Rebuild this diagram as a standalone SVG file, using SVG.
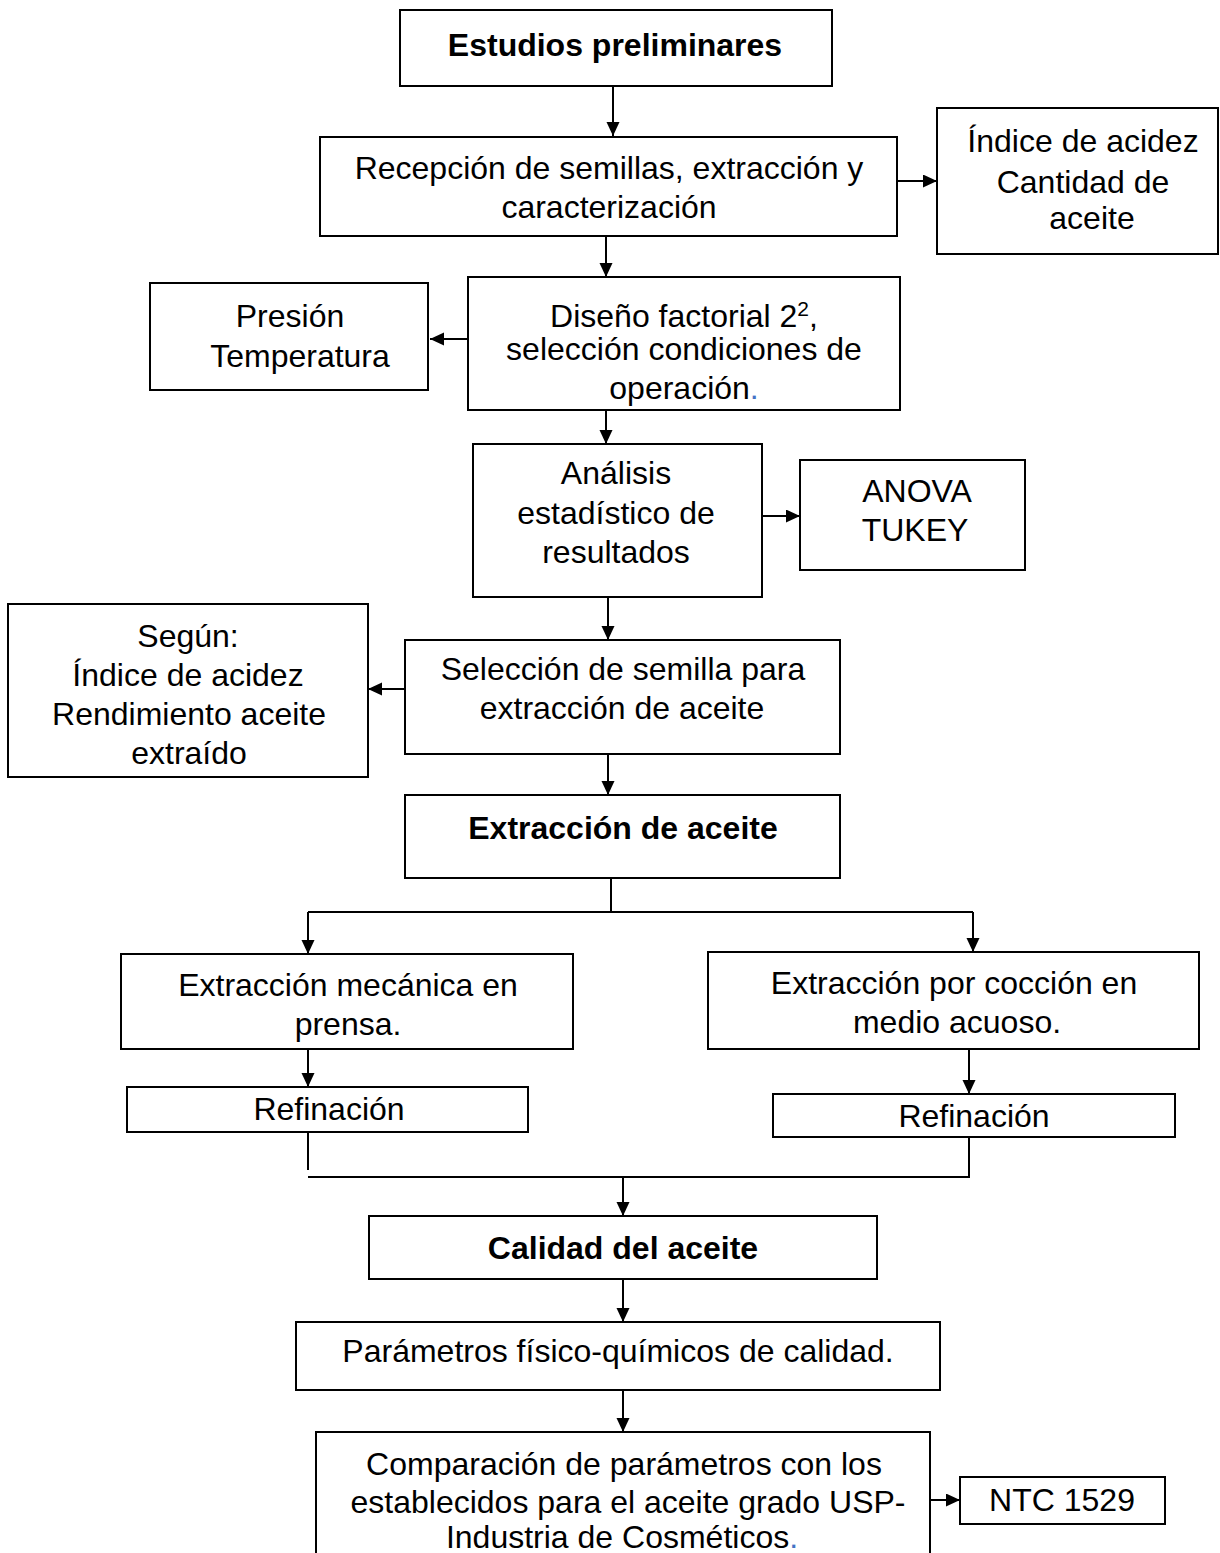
<svg xmlns="http://www.w3.org/2000/svg" width="1220" height="1553" viewBox="0 0 1220 1553">
<style>
.box{fill:#fff;stroke:#000;stroke-width:2}
.t{font-family:"Liberation Sans",Arial,sans-serif;font-size:32px;fill:#000;text-anchor:middle}
.b{font-weight:bold}
.c{fill:none;stroke:#000;stroke-width:2}
</style>
<defs>
<marker id="ah" markerUnits="userSpaceOnUse" markerWidth="16" markerHeight="14" refX="14" refY="6.5" orient="auto">
<path d="M0,0 L14,6.5 L0,13 z" fill="#000"/>
</marker>
<clipPath id="clip4"><rect x="468" y="277" width="432" height="131"/></clipPath>
</defs>
<rect width="1220" height="1553" fill="#fff"/>
<g id="connectors">
<line class="c" x1="613" y1="87" x2="613" y2="136" marker-end="url(#ah)"/>
<line class="c" x1="897" y1="181" x2="937" y2="181" marker-end="url(#ah)"/>
<line class="c" x1="606" y1="237" x2="606" y2="277" marker-end="url(#ah)"/>
<line class="c" x1="468" y1="339" x2="430" y2="339" marker-end="url(#ah)"/>
<line class="c" x1="606" y1="411" x2="606" y2="444" marker-end="url(#ah)"/>
<line class="c" x1="762" y1="516" x2="800" y2="516" marker-end="url(#ah)"/>
<line class="c" x1="608" y1="598" x2="608" y2="640" marker-end="url(#ah)"/>
<line class="c" x1="405" y1="689" x2="368" y2="689" marker-end="url(#ah)"/>
<line class="c" x1="608" y1="755" x2="608" y2="795" marker-end="url(#ah)"/>
<path class="c" d="M611,879 V912 M308,912 H973"/>
<line class="c" x1="308" y1="912" x2="308" y2="954" marker-end="url(#ah)"/>
<line class="c" x1="973" y1="912" x2="973" y2="952" marker-end="url(#ah)"/>
<line class="c" x1="308" y1="1050" x2="308" y2="1087" marker-end="url(#ah)"/>
<line class="c" x1="969" y1="1046" x2="969" y2="1094" marker-end="url(#ah)"/>
<path class="c" d="M308,1133 V1170 M308,1177 H970 M969,1138 V1177"/>
<line class="c" x1="623" y1="1177" x2="623" y2="1216" marker-end="url(#ah)"/>
<line class="c" x1="623" y1="1280" x2="623" y2="1322" marker-end="url(#ah)"/>
<line class="c" x1="623" y1="1391" x2="623" y2="1432" marker-end="url(#ah)"/>
<line class="c" x1="930" y1="1500" x2="960" y2="1500" marker-end="url(#ah)"/>
</g>
<g id="n1"><rect class="box" x="400" y="10" width="432" height="76"/><text class="t b" x="615" y="56">Estudios preliminares</text></g>
<g id="n2"><rect class="box" x="320" y="137" width="577" height="99"/><text class="t" x="609" y="179">Recepción de semillas, extracción y</text><text class="t" x="609" y="218">caracterización</text></g>
<g id="n3"><rect class="box" x="937" y="108" width="281" height="146"/><text class="t" x="1083" y="152">Índice de acidez</text><text class="t" x="1083" y="193">Cantidad de</text><text class="t" x="1092" y="229">aceite</text></g>
<g id="n4"><rect class="box" x="468" y="277" width="432" height="133"/><text class="t" x="684" y="327">Diseño factorial 2<tspan font-size="21" dy="-11">2</tspan><tspan dy="11">,</tspan></text><text class="t" x="684" y="360">selección condiciones de</text><text class="t" x="684" y="399" clip-path="url(#clip4)">operación<tspan fill="#4472C4">.</tspan></text></g>
<g id="n5"><rect class="box" x="150" y="283" width="278" height="107"/><text class="t" x="290" y="327">Presión</text><text class="t" x="300" y="367">Temperatura</text></g>
<g id="n6"><rect class="box" x="473" y="444" width="289" height="153"/><text class="t" x="616" y="484">Análisis</text><text class="t" x="616" y="524">estadístico de</text><text class="t" x="616" y="563">resultados</text></g>
<g id="n7"><rect class="box" x="800" y="460" width="225" height="110"/><text class="t" x="917" y="502">ANOVA</text><text class="t" x="915" y="541">TUKEY</text></g>
<g id="n8"><rect class="box" x="405" y="640" width="435" height="114"/><text class="t" x="623" y="680">Selección de semilla para</text><text class="t" x="622" y="719">extracción de aceite</text></g>
<g id="n9"><rect class="box" x="8" y="604" width="360" height="173"/><text class="t" x="188" y="647">Según:</text><text class="t" x="188" y="686">Índice de acidez</text><text class="t" x="189" y="725">Rendimiento aceite</text><text class="t" x="189" y="764">extraído</text></g>
<g id="n10"><rect class="box" x="405" y="795" width="435" height="83"/><text class="t b" x="623" y="839">Extracción de aceite</text></g>
<g id="n11"><rect class="box" x="121" y="954" width="452" height="95"/><text class="t" x="348" y="996">Extracción mecánica en</text><text class="t" x="348" y="1035">prensa.</text></g>
<g id="n12"><rect class="box" x="708" y="952" width="491" height="97"/><text class="t" x="954" y="994">Extracción por cocción en</text><text class="t" x="957" y="1033">medio acuoso.</text></g>
<g id="n13"><rect class="box" x="127" y="1087" width="401" height="45"/><text class="t" x="329" y="1120">Refinación</text></g>
<g id="n14"><rect class="box" x="773" y="1094" width="402" height="43"/><text class="t" x="974" y="1127">Refinación</text></g>
<g id="n15"><rect class="box" x="369" y="1216" width="508" height="63"/><text class="t b" x="623" y="1259">Calidad del aceite</text></g>
<g id="n16"><rect class="box" x="296" y="1322" width="644" height="68"/><text class="t" x="618" y="1362">Parámetros físico-químicos de calidad.</text></g>
<g id="n17"><path class="box" d="M316,1560 V1432 H930 V1560"/><text class="t" x="624" y="1475">Comparación de parámetros con los</text><text class="t" x="628" y="1513">establecidos para el aceite grado USP-</text><text class="t" x="622" y="1548">Industria de Cosméticos<tspan fill="#4472C4">.</tspan></text></g>
<g id="n18"><rect class="box" x="960" y="1477" width="205" height="47"/><text class="t" x="1062" y="1511">NTC 1529</text></g>
</svg>
